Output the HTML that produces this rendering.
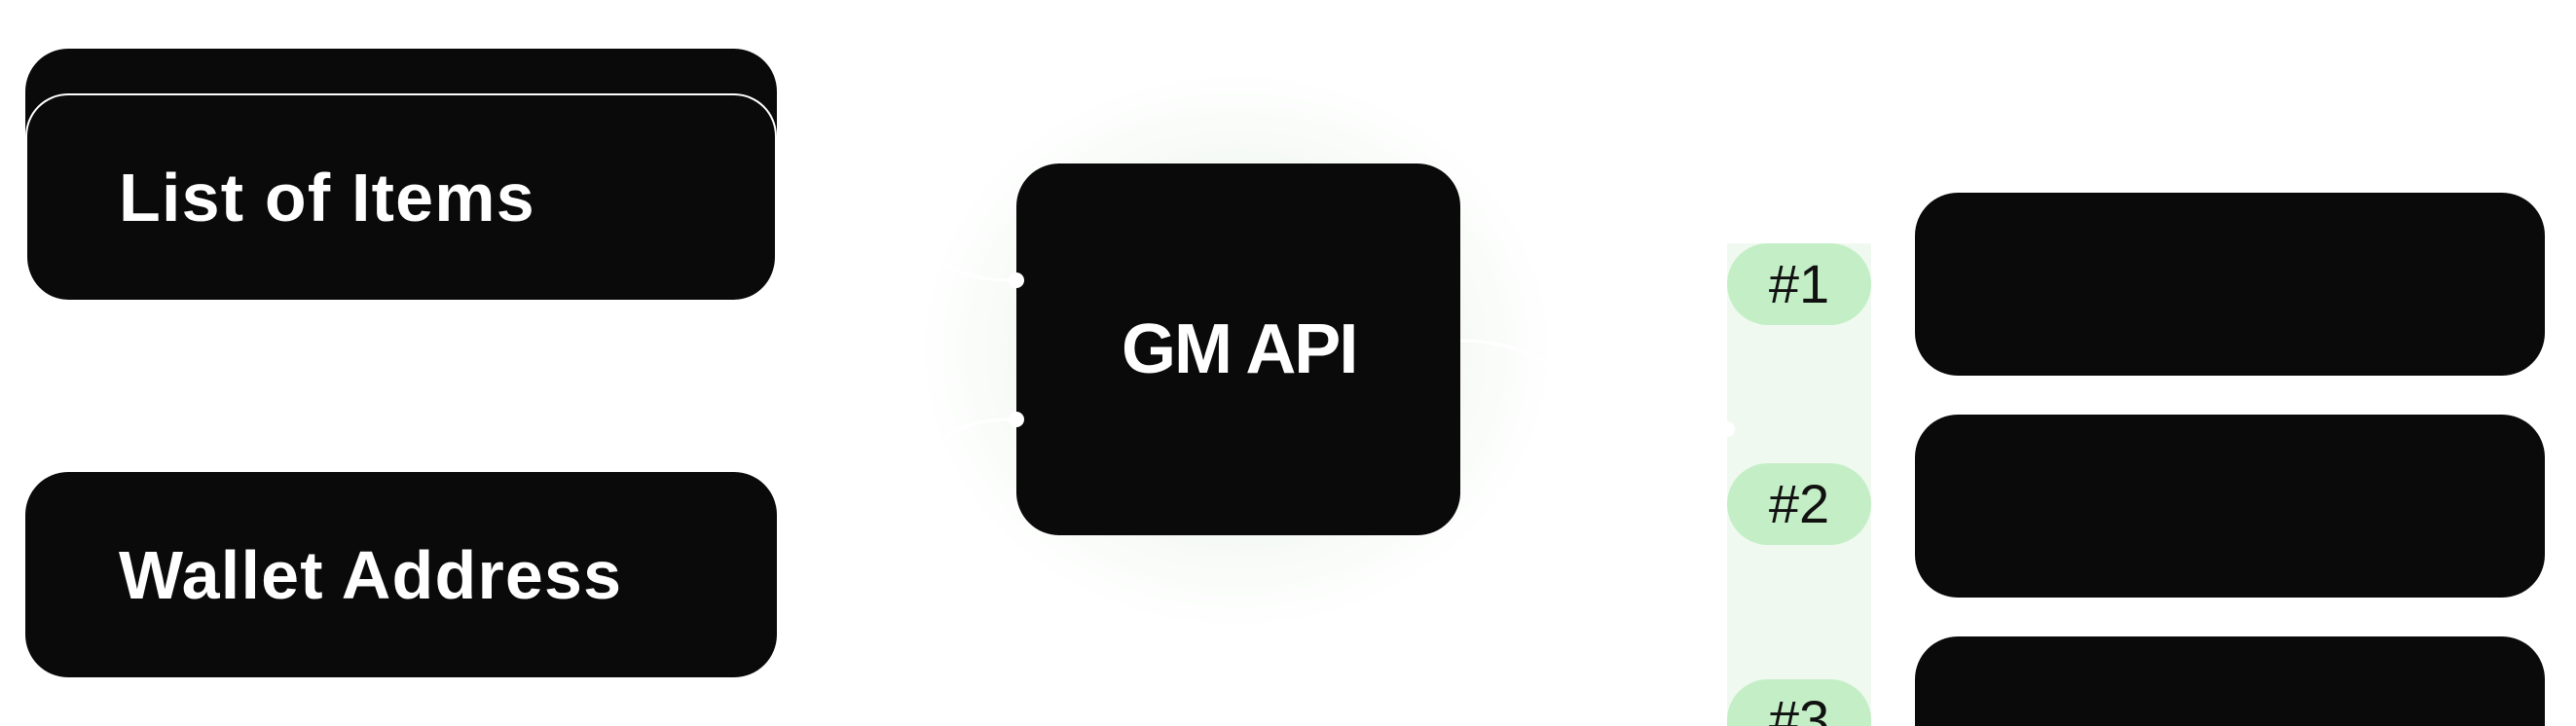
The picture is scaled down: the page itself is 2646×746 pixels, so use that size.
<!DOCTYPE html>
<html><head><meta charset="utf-8"><style>
html,body{margin:0;padding:0;background:#fff;width:2646px;height:746px;overflow:hidden;}
body{font-family:"Liberation Sans",sans-serif;}
#w{position:relative;width:2646px;height:746px;overflow:hidden;}
.card{position:absolute;background:#0a0a0a;border-radius:44px;box-sizing:border-box;}
.t{position:absolute;color:#fff;font-weight:bold;font-size:70px;white-space:nowrap;letter-spacing:1.2px;}
.glow{position:absolute;left:940px;top:70px;width:660px;height:580px;border-radius:50%;background:radial-gradient(ellipse at center, rgba(200,220,200,0.5) 0%, rgba(220,235,220,0.3) 45%, rgba(255,255,255,0) 70%);}
.badge{position:absolute;left:1774px;width:148px;height:84px;border-radius:42px;background:#c4efc6;color:#111;font-size:56px;text-align:center;line-height:84px;}
</style></head><body><div id="w">
<div class="glow"></div>
<svg style="position:absolute;left:0;top:0" width="2646" height="746">
<path d="M960 265 C 990 285, 1010 288, 1044 288" stroke="#fff" stroke-width="3" fill="none"/>
<path d="M960 460 C 980 440, 1000 431, 1044 431" stroke="#fff" stroke-width="3" fill="none"/>
<path d="M1500 350 C 1540 350, 1570 360, 1600 380" stroke="#fff" stroke-width="3" fill="none"/>
</svg>
<div class="card" style="left:26px;top:50px;width:772px;height:150px;"></div>
<div class="card" style="left:26px;top:96px;width:772px;height:212px;border:2px solid #fff;border-bottom:none;"></div>
<div class="t" style="left:122px;top:163px;">List of Items</div>
<div class="card" style="left:26px;top:485px;width:772px;height:211px;"></div>
<div class="t" style="left:122px;top:551px;">Wallet Address</div>
<div class="card" style="left:1044px;top:168px;width:456px;height:382px;"></div>
<div class="t" style="left:1152px;top:318px;font-size:72px;letter-spacing:-2px;">GM API</div>
<div style="position:absolute;left:1036px;top:280px;width:16px;height:16px;border-radius:50%;background:#fff;"></div>
<div style="position:absolute;left:1036px;top:423px;width:16px;height:16px;border-radius:50%;background:#fff;"></div>
<div style="position:absolute;left:1774px;top:250px;width:148px;height:496px;background:#f0f9f0;"></div>
<div style="position:absolute;left:1766px;top:433px;width:16px;height:16px;border-radius:50%;background:#fff;"></div>
<div class="badge" style="top:250px;">#1</div>
<div class="badge" style="top:476px;">#2</div>
<div class="badge" style="top:698px;height:48px;border-radius:42px 42px 0 0;overflow:hidden;">#3</div>
<div class="card" style="left:1967px;top:198px;width:647px;height:188px;"></div>
<div class="card" style="left:1967px;top:426px;width:647px;height:188px;"></div>
<div class="card" style="left:1967px;top:654px;width:647px;height:92px;border-radius:44px 44px 0 0;"></div>
</div></body></html>
